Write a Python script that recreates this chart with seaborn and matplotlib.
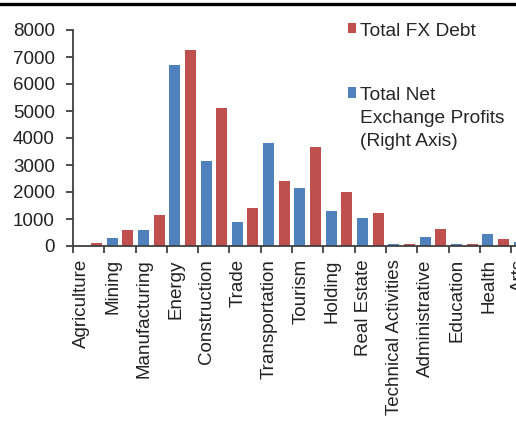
import numpy as np
import pandas as pd
import seaborn as sns
import matplotlib.pyplot as plt
import matplotlib.transforms as mtransforms
from matplotlib.lines import Line2D

# Data (blue series drawn at its visual height)
categories = ['Agriculture', 'Mining', 'Manufacturing', 'Energy', 'Construction',
              'Trade', 'Transportation', 'Tourism', 'Holding', 'Real Estate',
              'Technical Activities', 'Administrative', 'Education', 'Health', 'Arts']
net_profits = [0, 300, 600, 6720, 3130, 900, 3800, 2130, 1300, 1050, 80, 330, 70, 440, 150]
fx_debt = [100, 600, 1150, 7250, 5100, 1400, 2400, 3670, 2000, 1230, 70, 620, 70, 260, 100]
y_ticks = [0, 1000, 2000, 3000, 4000, 5000, 6000, 7000, 8000]

PROFIT_LABEL = 'Total Net\nExchange Profits\n(Right Axis)'
DEBT_LABEL = 'Total FX Debt'

df = pd.DataFrame({
    'sector': categories * 2,
    'value': net_profits + fx_debt,
    'series': [PROFIT_LABEL] * len(categories) + [DEBT_LABEL] * len(categories),
})

sns.set_style('white')
plt.rcParams['font.family'] = ['Liberation Sans', 'DejaVu Sans']
plt.rcParams['font.size'] = 13.5

fig = plt.figure(figsize=(5.16, 4.28), dpi=100)
# axes runs past the right edge, like the cropped original
ax = fig.add_axes([73 / 516, 182 / 428, 15 * 31.3 / 516, 216 / 428])

sns.barplot(data=df, x='sector', y='value', hue='series', order=categories,
            hue_order=[PROFIT_LABEL, DEBT_LABEL],
            palette={PROFIT_LABEL: '#4F81BD', DEBT_LABEL: '#C0504D'},
            saturation=1, width=1.0, gap=0.3, linewidth=0, ax=ax)

ax.set_xlim(-0.5, len(categories) - 0.5)
ax.set_ylim(0, 8000)
ax.set_yticks(y_ticks)
ax.set_xlabel('')
ax.set_ylabel('')

# spines: only left and bottom
for side in ['top', 'right']:
    ax.spines[side].set_visible(False)
for side in ['left', 'bottom']:
    ax.spines[side].set_color('#404040')
    ax.spines[side].set_linewidth(1.3)

# category boundary ticks like Excel
ax.set_xticks(np.arange(-0.5, len(categories), 1.0), minor=True)
ax.tick_params(axis='x', which='major', bottom=True, length=0, pad=9.5, labelcolor='#222222')
ax.tick_params(axis='x', which='minor', bottom=True, length=5, width=1.3,
               color='#404040', direction='out')
ax.tick_params(axis='y', which='major', left=True, length=5, width=1.3, color='#404040',
               direction='out', pad=8, labelcolor='#222222')

shift = mtransforms.ScaledTranslation(-7 / 100, 0, fig.dpi_scale_trans)
for lbl in ax.get_xticklabels():
    lbl.set_rotation(90)
    lbl.set_ha('center')
    lbl.set_va('top')
    lbl.set_transform(lbl.get_transform() + shift)

# legend, debt first
handles, labels = ax.get_legend_handles_labels()
ax.get_legend().remove()
leg = fig.legend(handles[::-1], labels[::-1], loc='upper left',
                 bbox_to_anchor=(338 / 516, 1 - 13 / 428), frameon=False,
                 handlelength=0.45, handleheight=0.45, handletextpad=0.2,
                 labelspacing=2.5, borderpad=0, fontsize=13.8)
for t in leg.get_texts():
    t.set_linespacing(1.45)
for col in leg._legend_handle_box.get_children():
    for entry in col.get_children():
        entry.align = 'top'

# black rule across the top of the crop
fig.add_artist(Line2D([0, 1], [1 - 3.5 / 428, 1 - 3.5 / 428], color='black',
                      linewidth=2.4, transform=fig.transFigure))

fig.savefig('out.png', dpi=100)
